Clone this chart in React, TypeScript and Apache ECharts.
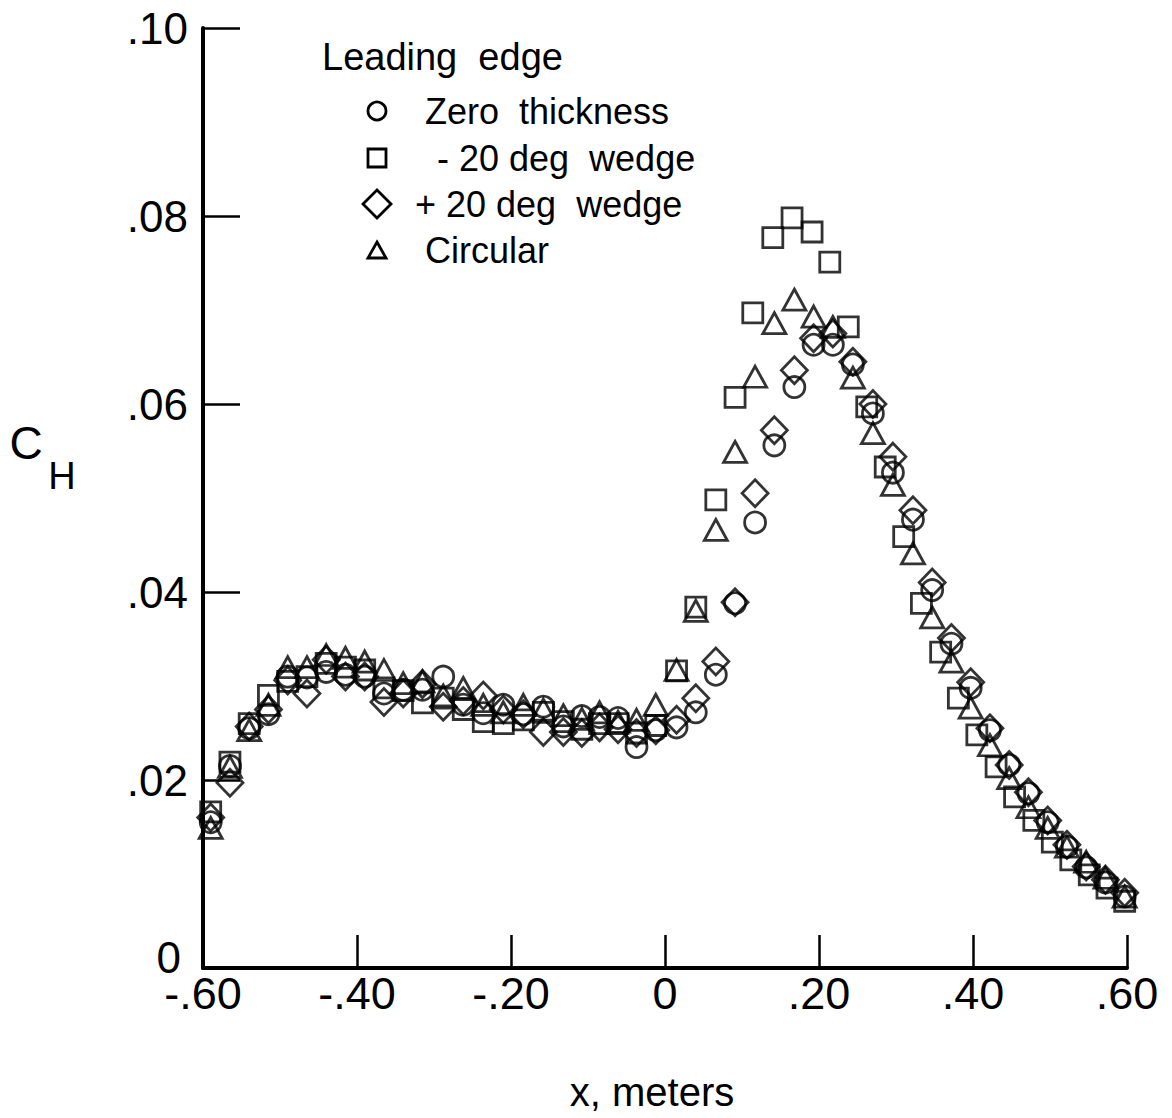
import React, { useEffect, useRef } from "react";
import * as echarts from "echarts";

// x positions (meters)
const xLeft = [-0.59, -0.565, -0.54, -0.515, -0.49, -0.465, -0.44, -0.415, -0.39, -0.365, -0.34, -0.315, -0.288, -0.262, -0.236, -0.21, -0.184, -0.158, -0.132, -0.108, -0.085, -0.061, -0.037, -0.012];
const xRight = [0.015, 0.04, 0.066, 0.091, 0.117, 0.142, 0.168, 0.193, 0.218, 0.244, 0.27, 0.296, 0.322, 0.347, 0.372, 0.397, 0.422, 0.447, 0.472, 0.497, 0.522, 0.547, 0.572, 0.597];
const xSquareRight = [0.015, 0.04, 0.066, 0.091, 0.114, 0.14, 0.165, 0.191, 0.214, 0.238, 0.262, 0.286, 0.31, 0.333, 0.358, 0.381, 0.405, 0.43, 0.454, 0.479, 0.503, 0.527, 0.551, 0.574, 0.597];

// C_H values
const zeroThickness = [0.0155, 0.0215, 0.0255, 0.027, 0.031, 0.0309, 0.0315, 0.0312, 0.031, 0.0292, 0.0296, 0.0296, 0.031, 0.028, 0.0271, 0.028, 0.027, 0.0278, 0.0257, 0.0268, 0.0267, 0.0266, 0.0235, 0.0253,
  0.0256, 0.0272, 0.0312, 0.0388, 0.0474, 0.0556, 0.0618, 0.0663, 0.0663, 0.0642, 0.059, 0.0527, 0.0477, 0.0402, 0.0345, 0.0298, 0.0253, 0.0216, 0.0186, 0.0155, 0.0129, 0.0107, 0.0091, 0.0076];
const minus20Wedge = [0.0166, 0.0219, 0.026, 0.029, 0.0305, 0.031, 0.0324, 0.032, 0.0317, 0.0298, 0.0295, 0.0282, 0.0287, 0.0275, 0.0262, 0.026, 0.0264, 0.0272, 0.0262, 0.0254, 0.026, 0.026, 0.025, 0.0258,
  0.0316, 0.0384, 0.0498, 0.0607, 0.0697, 0.0777, 0.0798, 0.0783, 0.0751, 0.0682, 0.0597, 0.0533, 0.0459, 0.0388, 0.0336, 0.0287, 0.0248, 0.0214, 0.0182, 0.0157, 0.0134, 0.0115, 0.0099, 0.0085, 0.0071];
const plus20Wedge = [0.016, 0.0197, 0.0257, 0.0275, 0.0306, 0.0292, 0.0328, 0.031, 0.031, 0.0283, 0.0292, 0.0302, 0.0278, 0.0284, 0.029, 0.0275, 0.027, 0.0251, 0.0251, 0.025, 0.0256, 0.0254, 0.025, 0.0253,
  0.0264, 0.0287, 0.0326, 0.0389, 0.0505, 0.0572, 0.0636, 0.067, 0.0675, 0.0645, 0.06, 0.0544, 0.0487, 0.041, 0.0351, 0.0304, 0.0255, 0.0216, 0.0187, 0.0157, 0.0131, 0.0108, 0.0094, 0.008];
const circular = [0.0149, 0.0214, 0.0253, 0.028, 0.032, 0.032, 0.0333, 0.033, 0.0326, 0.0317, 0.0303, 0.0305, 0.029, 0.0298, 0.028, 0.0272, 0.028, 0.0275, 0.0269, 0.0265, 0.0272, 0.0262, 0.0264, 0.028,
  0.0317, 0.038, 0.0466, 0.0549, 0.0629, 0.0686, 0.0711, 0.0693, 0.0682, 0.0628, 0.0569, 0.0514, 0.0441, 0.0373, 0.0326, 0.0277, 0.0237, 0.0202, 0.0171, 0.0149, 0.0129, 0.0113, 0.0096, 0.0076];

const legendTitle = "Leading  edge";
const seriesNames = ["Zero  thickness", "- 20 deg  wedge", "+ 20 deg  wedge", "Circular"];
const xTitle = "x, meters";

const FONT = "'Liberation Sans', Arial, Helvetica, sans-serif";

function fmt(v: number) {
  if (Math.abs(v) < 1e-9) return "0";
  return v.toFixed(2).replace("0.", ".");
}

function zip(xs: number[], ys: number[]) {
  return ys.map((y, i) => [xs[i], y]);
}

export default function App() {
  const ref = useRef<HTMLDivElement>(null);
  useEffect(() => {
    const chart = echarts.init(ref.current!, null, { renderer: "svg" });
    const hollow = { color: "rgba(0,0,0,0)", borderColor: "#000", borderWidth: 2.8 };
    const xAll = [...xLeft, ...xRight];
    const xSq = [...xLeft, ...xSquareRight];
    const lg = { fill: "none", stroke: "#000", lineWidth: 2.8 };
    const option: any = {
      animation: false,
      backgroundColor: "#fff",
      grid: { left: 203, right: 45, top: 28, bottom: 150, containLabel: false },
      xAxis: {
        type: "value",
        min: -0.6,
        max: 0.6,
        interval: 0.2,
        splitLine: { show: false },
        axisLine: { show: true, onZero: false, lineStyle: { color: "#000", width: 4 } },
        axisTick: { show: true, inside: true, length: 33, lineStyle: { color: "#000", width: 2.5 } },
        axisLabel: { color: "#000", fontSize: 45, fontFamily: FONT, margin: 3, formatter: fmt },
      },
      yAxis: {
        type: "value",
        min: 0,
        max: 0.1,
        interval: 0.02,
        splitLine: { show: false },
        axisLine: { show: true, onZero: false, lineStyle: { color: "#000", width: 4 } },
        axisTick: { show: true, inside: true, length: 37, lineStyle: { color: "#000", width: 2.5 } },
        axisLabel: {
          color: "#000",
          fontSize: 44,
          fontFamily: FONT,
          margin: 15,
          formatter: (v: number) => (Math.abs(v) < 1e-9 ? "{z|0}" : fmt(v)),
          rich: { z: { fontSize: 44, fontFamily: FONT, color: "#000", padding: [0, 7, 22, 0] } },
        },
      },
      series: [
        { name: seriesNames[0], type: "scatter", symbol: "circle", symbolSize: 21, itemStyle: hollow, data: zip(xAll, zeroThickness) },
        { name: seriesNames[1], type: "scatter", symbol: "rect", symbolSize: 20, itemStyle: hollow, data: zip(xSq, minus20Wedge) },
        { name: seriesNames[2], type: "scatter", symbol: "diamond", symbolSize: [26, 27], itemStyle: hollow, data: zip(xAll, plus20Wedge) },
        { name: seriesNames[3], type: "scatter", symbol: "triangle", symbolSize: [23, 21], itemStyle: hollow, data: zip(xAll, circular) },
      ],
      graphic: [
        { type: "text", style: { text: legendTitle, x: 322, y: 57, font: `38px ${FONT}`, fill: "#000", verticalAlign: "middle", align: "left" } },
        { type: "circle", shape: { cx: 377, cy: 111, r: 9 }, style: lg },
        { type: "rect", shape: { x: 368, y: 149, width: 18, height: 18 }, style: lg },
        { type: "polygon", shape: { points: [[377, 190], [391, 204], [377, 218], [363, 204]] }, style: lg },
        { type: "polygon", shape: { points: [[377, 242], [386, 258], [368, 258]] }, style: lg },
        { type: "text", style: { text: seriesNames[0], x: 425, y: 111, font: `36px ${FONT}`, fill: "#000", verticalAlign: "middle", align: "left" } },
        { type: "text", style: { text: seriesNames[1], x: 437, y: 158, font: `36px ${FONT}`, fill: "#000", verticalAlign: "middle", align: "left" } },
        { type: "text", style: { text: seriesNames[2], x: 415, y: 204, font: `36px ${FONT}`, fill: "#000", verticalAlign: "middle", align: "left" } },
        { type: "text", style: { text: seriesNames[3], x: 425, y: 250, font: `36px ${FONT}`, fill: "#000", verticalAlign: "middle", align: "left" } },
        { type: "text", style: { text: xTitle, x: 652, y: 1092, font: `40px ${FONT}`, fill: "#000", verticalAlign: "middle", align: "center" } },
        { type: "text", style: { text: "C", x: 26, y: 443, font: `46px ${FONT}`, fill: "#000", verticalAlign: "middle", align: "center" } },
        { type: "text", style: { text: "H", x: 62, y: 476, font: `38px ${FONT}`, fill: "#000", verticalAlign: "middle", align: "center" } },
      ],
    };
    chart.setOption(option);
    return () => chart.dispose();
  }, []);
  return <div ref={ref} style={{ position: "fixed", left: 0, top: 0, width: 1172, height: 1118, background: "#fff" }} />;
}
